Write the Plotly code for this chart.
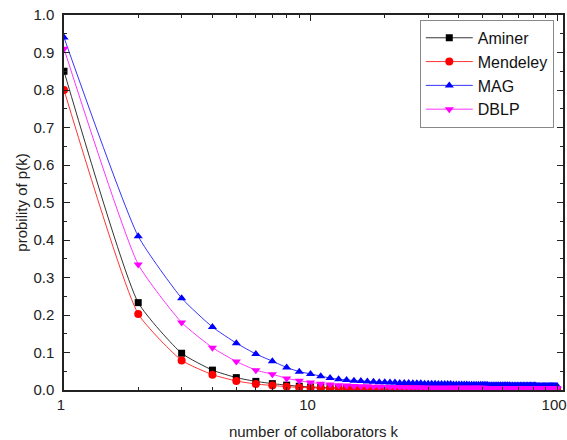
import plotly.graph_objects as go

k = list(range(1, 101))

aminer = [0.850, 0.233, 0.098, 0.053, 0.033, 0.023, 0.017, 0.013, 0.010, 0.008,
          0.007, 0.006, 0.005, 0.005, 0.004, 0.004, 0.004, 0.003, 0.003, 0.003,
          0.003, 0.003, 0.003, 0.003, 0.002, 0.002, 0.002, 0.002, 0.002, 0.002,
          0.002, 0.002, 0.002, 0.002, 0.002, 0.002, 0.002, 0.002, 0.002, 0.002,
          0.002, 0.002, 0.002, 0.002, 0.002, 0.002, 0.002, 0.002, 0.002, 0.002,
          0.001, 0.001, 0.001, 0.001, 0.001, 0.001, 0.001, 0.001, 0.001, 0.001,
          0.001, 0.001, 0.001, 0.001, 0.001, 0.001, 0.001, 0.001, 0.001, 0.001,
          0.001, 0.001, 0.001, 0.001, 0.001, 0.001, 0.001, 0.001, 0.001, 0.001,
          0.001, 0.001, 0.001, 0.001, 0.001, 0.001, 0.001, 0.001, 0.001, 0.001,
          0.001, 0.001, 0.001, 0.001, 0.001, 0.001, 0.001, 0.001, 0.001, 0.001]

mendeley = [0.800, 0.203, 0.079, 0.041, 0.024, 0.016, 0.012, 0.009, 0.007, 0.006,
            0.005, 0.004, 0.004, 0.003, 0.003, 0.003, 0.002, 0.002, 0.002, 0.002,
            0.002, 0.002, 0.002, 0.002, 0.002, 0.002, 0.002, 0.002, 0.001, 0.001,
            0.001, 0.001, 0.001, 0.001, 0.001, 0.001, 0.001, 0.001, 0.001, 0.001,
            0.001, 0.001, 0.001, 0.001, 0.001, 0.001, 0.001, 0.001, 0.001, 0.001,
            0.001, 0.001, 0.001, 0.001, 0.001, 0.001, 0.001, 0.001, 0.001, 0.001,
            0.001, 0.001, 0.001, 0.001, 0.001, 0.001, 0.001, 0.001, 0.001, 0.001,
            0.001, 0.001, 0.001, 0.001, 0.001, 0.001, 0.001, 0.001, 0.001, 0.001,
            0.001, 0.001, 0.001, 0.001, 0.001, 0.001, 0.001, 0.001, 0.001, 0.001,
            0.001, 0.001, 0.001, 0.001, 0.001, 0.001, 0.001, 0.001, 0.001, 0.001]

mag = [0.940, 0.410, 0.245, 0.168, 0.125, 0.096, 0.077, 0.060, 0.049, 0.043,
       0.037, 0.032, 0.029, 0.027, 0.025, 0.024, 0.023, 0.022, 0.021, 0.021,
       0.020, 0.020, 0.019, 0.019, 0.019, 0.018, 0.018, 0.018, 0.017, 0.017,
       0.017, 0.017, 0.016, 0.016, 0.016, 0.016, 0.016, 0.015, 0.015, 0.015,
       0.015, 0.015, 0.015, 0.014, 0.014, 0.014, 0.014, 0.014, 0.014, 0.014,
       0.014, 0.014, 0.013, 0.013, 0.013, 0.013, 0.013, 0.013, 0.013, 0.013,
       0.013, 0.013, 0.013, 0.013, 0.012, 0.012, 0.012, 0.012, 0.012, 0.012,
       0.012, 0.012, 0.012, 0.012, 0.012, 0.012, 0.012, 0.012, 0.012, 0.012,
       0.012, 0.012, 0.011, 0.011, 0.011, 0.011, 0.011, 0.011, 0.011, 0.011,
       0.011, 0.011, 0.011, 0.011, 0.011, 0.011, 0.011, 0.011, 0.011, 0.011]

dblp = [0.910, 0.335, 0.180, 0.113, 0.076, 0.053, 0.042, 0.031, 0.025, 0.020,
        0.017, 0.015, 0.013, 0.012, 0.011, 0.010, 0.010, 0.009, 0.009, 0.008,
        0.008, 0.008, 0.008, 0.007, 0.007, 0.007, 0.007, 0.007, 0.007, 0.006,
        0.006, 0.006, 0.006, 0.006, 0.006, 0.006, 0.006, 0.006, 0.006, 0.006,
        0.006, 0.006, 0.006, 0.006, 0.006, 0.006, 0.006, 0.006, 0.006, 0.006,
        0.005, 0.005, 0.005, 0.005, 0.005, 0.005, 0.005, 0.005, 0.005, 0.005,
        0.005, 0.005, 0.005, 0.005, 0.005, 0.005, 0.005, 0.005, 0.005, 0.005,
        0.005, 0.005, 0.005, 0.005, 0.005, 0.004, 0.004, 0.004, 0.004, 0.004,
        0.004, 0.004, 0.004, 0.004, 0.004, 0.004, 0.004, 0.004, 0.004, 0.004,
        0.004, 0.004, 0.004, 0.004, 0.004, 0.004, 0.004, 0.004, 0.004, 0.004]

series_names = ["Aminer", "Mendeley", "MAG", "DBLP"]
x_tick_vals = [1, 10, 100]
x_tick_text = ["1", "10", "100"]
x_minor_vals = [2, 3, 4, 5, 6, 7, 8, 9, 20, 30, 40, 50, 60, 70, 80, 90]

styles = [
    ("#000000", "square", 7),
    ("#ff0000", "circle", 8),
    ("#0000ff", "triangle-up", 8),
    ("#ff00ff", "triangle-down", 8),
]

fig = go.Figure()
for name, ys, (col, sym, sz) in zip(series_names, [aminer, mendeley, mag, dblp], styles):
    fig.add_trace(go.Scatter(
        x=k, y=ys, name=name, mode="lines+markers",
        line=dict(color=col, width=0.8, shape="spline", smoothing=0.5),
        marker=dict(color=col, symbol=sym, size=sz, line=dict(width=0)),
    ))

font = "Liberation Sans, Arial, sans-serif"
fig.update_layout(
    width=567, height=440,
    margin=dict(l=64, r=4, t=15, b=50, autoexpand=False),
    paper_bgcolor="white", plot_bgcolor="white",
    font=dict(family=font, size=15, color="#222222"),
    showlegend=True,
    legend=dict(
        x=0.713, y=0.987, xanchor="left", yanchor="top",
        bgcolor="white", bordercolor="#888888", borderwidth=1,
        font=dict(family=font, size=16, color="#111111"),
        tracegroupgap=0, itemwidth=47,
    ),
    xaxis=dict(
        type="log", range=[0, 2.024], automargin=False,
        tickvals=x_tick_vals, ticktext=x_tick_text,
        ticklabeloverflow="allow", ticklabelshift=-3,
        ticks="inside", ticklen=6, tickwidth=1, tickcolor="#222222",
        minor=dict(ticks="inside", ticklen=3, tickvals=x_minor_vals, tickcolor="#222222"),
        showline=True, linecolor="#222222", linewidth=1.5, mirror="ticks",
        showgrid=False, zeroline=False,
        ticklabelstandoff=0,
        title=dict(text="number of collaborators k", standoff=24,
                   font=dict(family=font, size=15)),
        tickfont=dict(family=font, size=15),
    ),
    yaxis=dict(
        range=[0, 1.0], dtick=0.1, tickformat=".1f", automargin=False,
        ticks="inside", ticklen=6, tickwidth=1, tickcolor="#222222",
        minor=dict(ticks="inside", ticklen=3, dtick=0.05, tickcolor="#222222"),
        showline=True, linecolor="#222222", linewidth=1.5, mirror="ticks",
        showgrid=False, zeroline=False,
        ticklabelstandoff=5,
        title=dict(text="probility of p(k)", standoff=2,
                   font=dict(family=font, size=15)),
        tickfont=dict(family=font, size=15),
    ),
)

fig.write_html("out.html")
